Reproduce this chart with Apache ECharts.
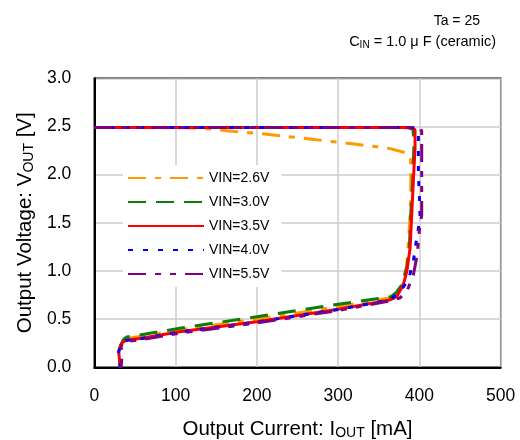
<!DOCTYPE html>
<html>
<head>
<meta charset="utf-8">
<script src="https://cdn.jsdelivr.net/npm/echarts@6/dist/echarts.min.js"></script>
<style>
  html, body { margin: 0; padding: 0; background: #fff; }
  #chart { width: 520px; height: 440px; }
</style>
</head>
<body>
<div id="chart"></div>
<script>
// Load characteristic: output voltage vs output current for several input voltages
const seriesNames = ['VIN=2.6V', 'VIN=3.0V', 'VIN=3.5V', 'VIN=4.0V', 'VIN=5.5V'];

const iout26 = [0, 130, 163, 212, 270, 327, 364, 382, 389, 389.5, 388.5, 387, 384.5, 379, 372, 364, 300, 200, 105, 56, 40, 35, 32, 30, 31, 32];
const vout26 = [2.49, 2.485, 2.456, 2.42, 2.365, 2.31, 2.27, 2.23, 2.19, 1.9, 1.58, 1.37, 1.06, 0.86, 0.75, 0.72, 0.63, 0.50, 0.39, 0.32, 0.30, 0.27, 0.22, 0.16, 0.08, 0];

const iout30 = [0, 100, 200, 300, 385, 392, 393.4, 391.8, 389.3, 387.6, 384.4, 378, 372, 365, 300, 200, 105, 56, 40, 36, 33, 31, 31, 32];
const vout30 = [2.49, 2.49, 2.49, 2.49, 2.49, 2.47, 2.34, 1.93, 1.58, 1.235, 1.03, 0.854, 0.78, 0.733, 0.654, 0.525, 0.405, 0.335, 0.315, 0.29, 0.24, 0.16, 0.08, 0];

const iout35 = [0, 100, 200, 300, 380, 391, 394.6, 394.6, 392.5, 390.5, 388.5, 384.4, 380, 372, 364, 300, 200, 105, 56, 40, 35, 32, 30, 31, 32];
const vout35 = [2.49, 2.49, 2.49, 2.49, 2.49, 2.485, 2.465, 2.27, 1.93, 1.58, 1.235, 0.99, 0.854, 0.733, 0.70, 0.602, 0.473, 0.37, 0.30, 0.283, 0.26, 0.22, 0.16, 0.08, 0];

const iout40 = [0, 100, 200, 300, 390, 396, 398.7, 398.7, 400, 400.8, 396.7, 392.5, 386.4, 376, 364, 300, 200, 105, 56, 40, 35, 32, 30, 31, 32];
const vout40 = [2.49, 2.49, 2.49, 2.49, 2.49, 2.48, 2.41, 2.01, 1.77, 1.55, 1.34, 1.10, 0.906, 0.785, 0.70, 0.60, 0.47, 0.365, 0.295, 0.28, 0.26, 0.22, 0.16, 0.08, 0];

const iout55 = [0, 100, 200, 300, 395, 401, 402.8, 402.8, 402.8, 400, 398, 395.8, 392.5, 384.4, 376, 364, 300, 200, 105, 56, 40, 35, 33, 33.5, 33.7, 33];
const vout55 = [2.49, 2.49, 2.49, 2.49, 2.49, 2.48, 2.45, 2.0, 1.58, 1.425, 1.235, 1.10, 0.958, 0.785, 0.72, 0.69, 0.59, 0.46, 0.355, 0.285, 0.27, 0.25, 0.22, 0.18, 0.08, 0];

const xTicks = [0, 100, 200, 300, 400, 500];
const yTicks = [0.0, 0.5, 1.0, 1.5, 2.0, 2.5, 3.0];

const FONT = '"Liberation Sans", Arial, sans-serif';

function pairs(xs, ys) {
  return xs.map((x, i) => [x, ys[i]]);
}

const curves = [
  { I: iout26, V: vout26, color: '#FF9900', dash: [18, 9, 6, 9] },
  { I: iout30, V: vout30, color: '#0A7D0A', dash: [18, 10] },
  { I: iout35, V: vout35, color: '#FF0000', dash: 'solid' },
  { I: iout40, V: vout40, color: '#0000FF', dash: [5, 10] },
  { I: iout55, V: vout55, color: '#800080', dash: [18, 9, 6, 9, 6, 9] }
];

const chart = echarts.init(document.getElementById('chart'), null, { renderer: 'canvas' });

chart.setOption({
  animation: false,
  backgroundColor: '#fff',
  grid: {
    left: 94.3, right: 19.3, top: 78.3, bottom: 72.7,
    outerBoundsMode: 'none',
    containLabel: false,
    show: true, borderColor: '#000', borderWidth: 1.5, backgroundColor: 'transparent'
  },
  graphic: [
    {
      type: 'text', x: 480, y: 21,
      style: {
        text: 'Ta = 25', align: 'right', verticalAlign: 'middle',
        font: '14px ' + FONT, fill: '#000'
      }
    },
    {
      type: 'text', x: 496, y: 42,
      style: {
        text: '{a|C}{s|IN}{a| = 1.0 μ F (ceramic)}', align: 'right', verticalAlign: 'middle',
        fill: '#000',
        rich: {
          a: { fontSize: 14.5, fontFamily: FONT, color: '#000' },
          s: { fontSize: 10, fontFamily: FONT, color: '#000', padding: [6, 0, 0, 0] }
        }
      }
    }
  ],
  legend: {
    left: 123, top: 165,
    orient: 'vertical',
    backgroundColor: '#fff',
    padding: [6, 12, 6, 4],
    itemWidth: 76, itemHeight: 14, itemGap: 10,
    itemStyle: { opacity: 0 },
    textStyle: { fontSize: 14, fontFamily: FONT, color: '#000', lineHeight: 14 },
    data: seriesNames
  },
  xAxis: {
    type: 'value', min: 0, max: 500, interval: 100,
    axisLine: { show: true, lineStyle: { color: '#000', width: 2 } },
    axisTick: { show: false },
    splitLine: { show: true, lineStyle: { color: '#cccccc', width: 1.5 } },
    axisLabel: {
      fontSize: 17.5, fontFamily: FONT, color: '#000', margin: 20,
      formatter: v => xTicks.includes(v) ? String(v) : ''
    },
    name: '{a|Output Current: I}{s|OUT}{a| [mA]}',
    nameLocation: 'middle', nameGap: 51,
    nameTextStyle: {
      rich: {
        a: { fontSize: 20.5, fontFamily: FONT, color: '#000' },
        s: { fontSize: 14, fontFamily: FONT, color: '#000', padding: [8, 0, 0, 0] }
      }
    }
  },
  yAxis: {
    type: 'value', min: 0, max: 3, interval: 0.5,
    axisLine: { show: true, lineStyle: { color: '#000', width: 2 } },
    axisTick: { show: false },
    splitLine: { show: true, lineStyle: { color: '#cccccc', width: 1.5 } },
    axisLabel: {
      fontSize: 17.5, fontFamily: FONT, color: '#000', margin: 23,
      formatter: v => yTicks.some(t => Math.abs(t - v) < 1e-9) ? v.toFixed(1) : ''
    },
    name: '{a|Output Voltage: V}{s|OUT}{a| [V]}',
    nameLocation: 'middle', nameGap: 47, nameRotate: 90,
    nameTextStyle: {
      rich: {
        a: { fontSize: 20.5, fontFamily: FONT, color: '#000' },
        s: { fontSize: 14, fontFamily: FONT, color: '#000', padding: [8, 0, 0, 0] }
      }
    }
  },
  series: curves.map((c, k) => ({
    name: seriesNames[k],
    type: 'line',
    data: pairs(c.I, c.V),
    symbol: 'none',
    smooth: false,
    color: c.color,
    lineStyle: { color: c.color, width: 3, type: c.dash, cap: 'butt' },
    z: 2 + k
  }))
});
</script>
</body>
</html>
